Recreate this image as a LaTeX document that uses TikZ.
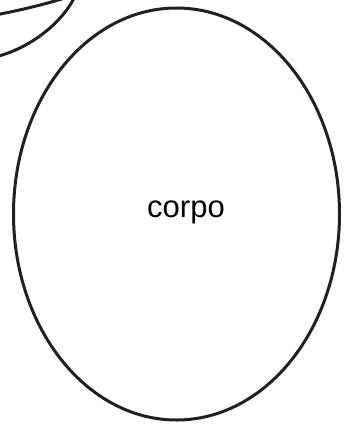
\documentclass[tikz,border=0pt]{standalone}
\usepackage{fontspec}
\setmainfont{Liberation Sans}
\usetikzlibrary{shapes.geometric}
\definecolor{ink}{HTML}{231F20}
\tikzset{outline/.style={draw=ink,line width=3pt}}
\begin{document}
\begin{tikzpicture}[x=1pt,y=-1pt]
  \useasboundingbox (0,0) rectangle (349,425);
  \clip (0,0) rectangle (349,425);
  % arm, cut by the top left corner
  \draw[outline] (-10,16) .. controls (22,10) and (46,4) .. (68,-3);
  \draw[outline] (-10,58) .. controls (28,51) and (64,22) .. (76,-6);
  % body
  \node[outline,ellipse,minimum width=326pt,minimum height=412pt,inner sep=0pt] (body) at (176.5,214) {};
  \node[font=\fontsize{31}{37}\selectfont,anchor=base,inner sep=0pt] (bodylabel) at (186,217) {corpo};
\end{tikzpicture}
\end{document}
